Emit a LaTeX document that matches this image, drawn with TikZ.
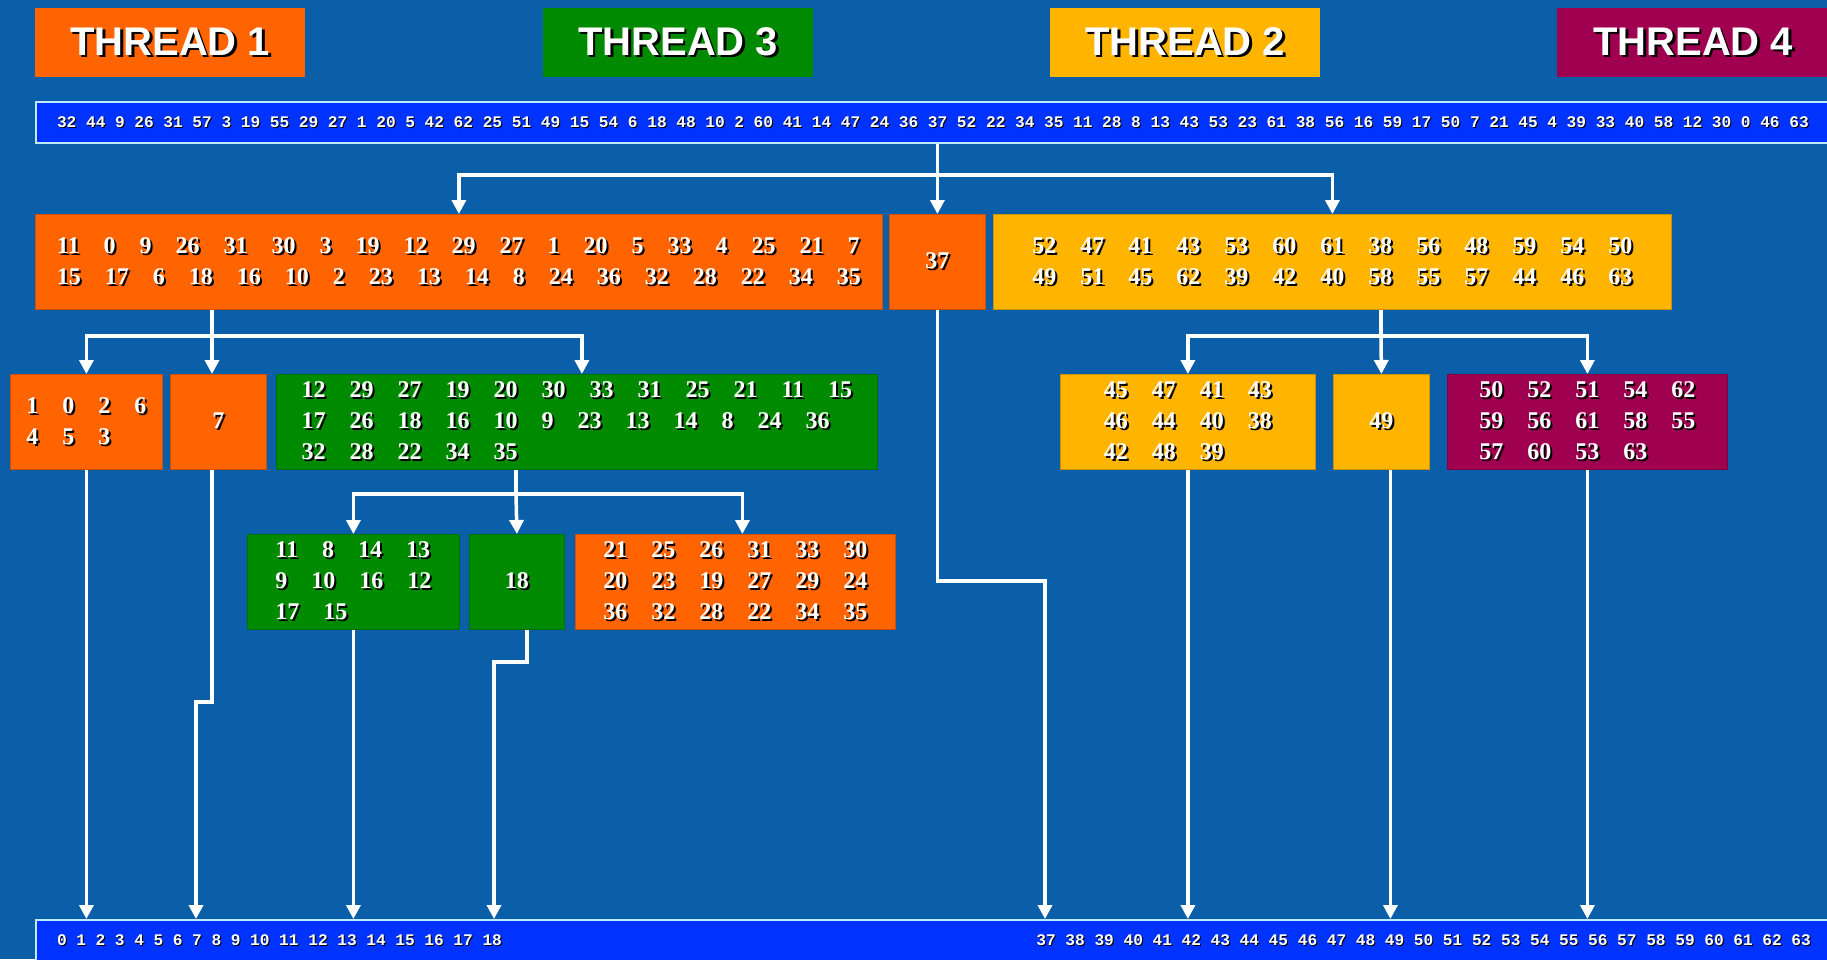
\documentclass[tikz,border=0pt]{standalone}
\usepackage{fontspec}
\setmainfont{Liberation Serif}
\newfontfamily\titlefont{Liberation Sans}
\newfontfamily\barfont{Liberation Mono}
\usetikzlibrary{arrows.meta}

\definecolor{bgblue}{RGB}{11,94,168}
\definecolor{barblue}{RGB}{0,51,255}
\definecolor{tOrange}{RGB}{255,100,0}
\definecolor{tGreen}{RGB}{0,138,0}
\definecolor{tAmber}{RGB}{255,180,0}
\definecolor{tMaroon}{RGB}{160,0,80}

% white text with a dark drop shadow
\newcommand\shtext[2][2pt]{\leavevmode\rlap{\kern#1\raisebox{-#1}{\color{black}#2}}#2}
% a run of array cells, one mono digit wide between numbers
\newcommand\cells[1]{{\spaceskip=9.6pt\relax\shtext[1pt]{#1}}}
\newcommand\threadfont{\titlefont\fontsize{40}{44}\selectfont\bfseries}
\newcommand\numfont{\fontsize{24}{31}\selectfont\bfseries\spaceskip=24pt\relax}
\newcommand\cellfont{\barfont\fontsize{16.2}{18}\selectfont\bfseries}

\begin{document}
\begin{tikzpicture}[
    x=1pt, y=-1pt,
    thread/.style={fill=#1, anchor=north west, minimum width=270pt, minimum height=69pt, inner sep=0pt, text=white, font=\threadfont},
    block/.style={fill=#1, draw=#1!80!black, line width=0.8pt, anchor=north west, minimum height=95pt, inner sep=0pt, align=left, text=white, font=\numfont},
    cellbar/.style={fill=barblue, draw=white!75!cyan, line width=2pt, anchor=north west, minimum height=41pt, inner xsep=21pt, inner ysep=0pt, text width=1790pt, align=left, text=white, font=\cellfont},
    wire/.style={draw=white, line width=3.5pt},
    link/.style={wire, -{Triangle[width=14pt,length=14pt]}}
]
    \useasboundingbox (0,0) rectangle (1827,959);
    \clip (0,0) rectangle (1827,959);
    \fill[bgblue] (0,0) rectangle (1827,959);

    % Threads
    \node[thread=tOrange] (t1) at (35,8) {\shtext[2.5pt]{THREAD 1}};
    \node[thread=tGreen] (t3) at (543,8) {\shtext[2.5pt]{THREAD 3}};
    \node[thread=tAmber] (t2) at (1050,8) {\shtext[2.5pt]{THREAD 2}};
    \node[thread=tMaroon, minimum width=272pt] (t4) at (1557,8) {\shtext[2.5pt]{THREAD 4}};

    % Input and sorted arrays
    \node[cellbar] (top) at (35,101) {\cells{32 44 9 26 31 57 3 19 55 29 27 1 20 5 42 62 25 51 49 15 54 6 18 48 10 2 60 41 14 47 24 36 37 52 22 34 35 11 28 8 13 43 53 23 61 38 56 16 59 17 50 7 21 45 4 39 33 40 58 12 30 0 46 63}};
    \node[cellbar, text width=1754pt] (bot) at (35,919) {\cells{0 1 2 3 4 5 6 7 8 9 10 11 12 13 14 15 16 17 18}\hfill\cells{37 38 39 40 41 42 43 44 45 46 47 48 49 50 51 52 53 54 55 56 57 58 59 60 61 62 63}};

    % First split around 37
    \node[block=tOrange, minimum width=847pt] (b1a) at (35,214) {\shtext{11 0 9 26 31 30 3 19 12 29 27 1 20 5 33 4 25 21 7}\\\shtext{15 17 6 18 16 10 2 23 13 14 8 24 36 32 28 22 34 35}};
    \node[block=tOrange, minimum width=96pt] (b37) at (889,214) {\shtext{37}};
    \node[block=tAmber, minimum width=678pt] (b1c) at (993,214) {\shtext{52 47 41 43 53 60 61 38 56 48 59 54 50}\\\shtext{49 51 45 62 39 42 40 58 55 57 44 46 63}};

    % Second level
    \node[block=tOrange, minimum width=152pt] (c1) at (10,374) {\shtext{1 0 2 6}\\\shtext{4 5 3}};
    \node[block=tOrange, minimum width=96pt] (c2) at (170,374) {\shtext{7}};
    \node[block=tGreen, minimum width=601pt] (c3) at (276,374) {\shtext{12 29 27 19 20 30 33 31 25 21 11 15}\\\shtext{17 26 18 16 10 9 23 13 14 8 24 36}\\\shtext{32 28 22 34 35}};
    \node[block=tAmber, minimum width=255pt] (c4) at (1060,374) {\shtext{45 47 41 43}\\\shtext{46 44 40 38}\\\shtext{42 48 39}};
    \node[block=tAmber, minimum width=96pt] (c5) at (1333,374) {\shtext{49}};
    \node[block=tMaroon, minimum width=280pt] (c6) at (1447,374) {\shtext{50 52 51 54 62}\\\shtext{59 56 61 58 55}\\\shtext{57 60 53 63}};

    % Third level
    \node[block=tGreen, minimum width=212pt] (d1) at (247,534) {\shtext{11 8 14 13}\\\shtext{9 10 16 12}\\\shtext{17 15}};
    \node[block=tGreen, minimum width=95pt] (d2) at (469,534) {\shtext{18}};
    \node[block=tOrange, minimum width=320pt] (d3) at (575,534) {\shtext{21 25 26 31 33 30}\\\shtext{20 23 19 27 29 24}\\\shtext{36 32 28 22 34 35}};

    % Split of the whole array
    \coordinate (j1) at (937,175);
    \draw[link] (top.south -| b37.north) -- (b37.north);
    \draw[link] (j1) -| (b1a.north);
    \draw[link] (j1) -| (b1c.north);

    % Thread 1 splits its part
    \coordinate (j2) at (212,336);
    \draw[wire] (b1a.south -| j2) -- (j2);
    \draw[link] (j2) -| (c1.north);
    \draw[link] (j2) -- (j2 |- c2.north);
    \draw[link] (j2) -| ([xshift=5pt]c3.north);

    % Thread 2 splits its part
    \coordinate (j3) at (1381,336);
    \draw[wire] (b1c.south -| j3) -- (j3);
    \draw[link] (j3) -| (c4.north);
    \draw[link] (j3) -- (c5.north);
    \draw[link] (j3) -| (c6.north);

    % Thread 3 splits its part
    \coordinate (j4) at (516,494);
    \draw[wire] (c3.south -| j4) -- (j4);
    \draw[link] (j4) -| (d1.north);
    \draw[link] (j4) -- (d2.north);
    \draw[link] (j4) -| ([xshift=7pt]d3.north);

    % Finished pieces into the sorted array
    \coordinate (k7) at (196,702);
    \coordinate (k18) at (494,662);
    \coordinate (k37) at (1045,581);
    \coordinate (e49) at ([xshift=9pt]c5.south);
    \draw[link] (c1.south) -- (c1.south |- bot.north);
    \draw[link] (c2.south -| j2) |- (k7) -- (k7 |- bot.north);
    \draw[link] (d1.south) -- (d1.south |- bot.north);
    \draw[link] ([xshift=10pt]d2.south) |- (k18) -- (k18 |- bot.north);
    \draw[link] (b37.south) |- (k37) -- (k37 |- bot.north);
    \draw[link] (c4.south) -- (c4.south |- bot.north);
    \draw[link] (e49) -- (e49 |- bot.north);
    \draw[link] (c6.south) -- (c6.south |- bot.north);
\end{tikzpicture}
\end{document}
